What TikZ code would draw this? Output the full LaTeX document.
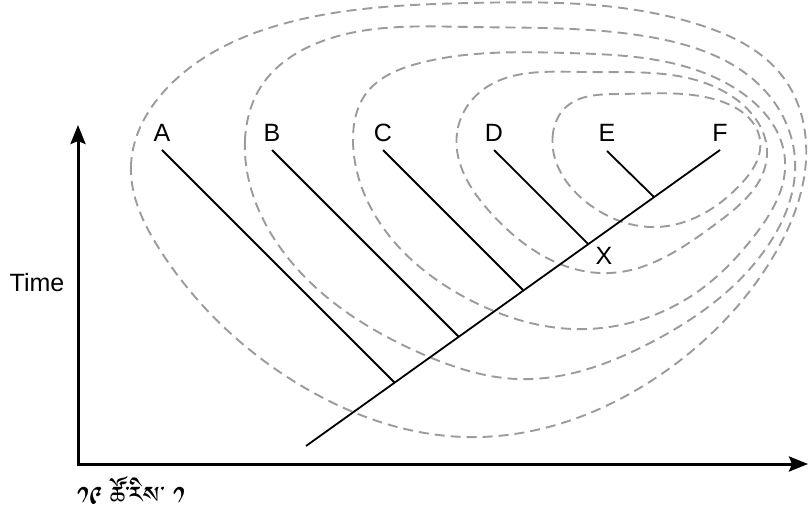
\documentclass[tikz,border=0pt]{standalone}
\usepackage{fontspec}
\setmainfont{Liberation Sans}
\newfontfamily\tibfont[Script=Tibetan]{Jomolhari}
\usetikzlibrary{arrows.meta,hobby}
\definecolor{dashgray}{RGB}{155,155,155}
\tikzset{
  loopline/.style={draw=dashgray, line width=1.9pt, dash pattern=on 10pt off 6pt, use Hobby shortcut, closed=true},
  treeline/.style={draw=black, line width=1.8pt},
  axisline/.style={draw=black, line width=3pt, -{Stealth[length=19pt,width=15pt,inset=3pt]}},
  leaf/.style={font=\fontsize{25}{28}\selectfont, inner sep=0pt}
}
\begin{document}
\begin{tikzpicture}[x=1pt,y=-1pt]
\useasboundingbox (0,0) rectangle (809,521);
% loops
\draw[loopline] (131,165) .. (160,250) .. (300,385) .. (465,437) .. (663,373) .. (773,257) .. (806,160) .. (783,77) .. (700,25) .. (470,3) .. (290,22) .. (170,85);
\draw[loopline] (245,140) .. (275,240) .. (420,353) .. (517,379) .. (650,343) .. (767,247) .. (795,160) .. (767,93) .. (650,37) .. (470,27) .. (320,42) .. (262,85);
\draw[loopline] (353,140) .. (387,233) .. (470,300) .. (573,329) .. (700,290) .. (755,235) .. (785,160) .. (733,87) .. (567,53) .. (420,63) .. (365,95);
\draw[loopline] (457,133) .. (490,212) .. (610,273) .. (717,223) .. (767,155) .. (733,97) .. (583,72) .. (480,92);
\draw[loopline] (553,133) .. (590,205) .. (657,227) .. (740,185) .. (760,140) .. (717,100) .. (620,94) .. (565,108);
% axes
\coordinate (origin) at (78,464);
\coordinate (ytip) at (78,125);
\coordinate (xtip) at (808,464);
\draw[axisline] ([yshift=1.5pt]origin) -- (ytip);
\draw[axisline] ([xshift=-1.5pt]origin) -- (xtip);
\node[leaf] (time) at (37,283) {Time};
% tree
\node[leaf] (A) at (162,133) {A};
\node[leaf] (B) at (272,133) {B};
\node[leaf] (C) at (383,133) {C};
\node[leaf] (D) at (494,133) {D};
\node[leaf] (E) at (607,133) {E};
\node[leaf] (F) at (720,133) {F};
\coordinate (tA) at (162,150);
\coordinate (tB) at (272,150);
\coordinate (tC) at (383,150);
\coordinate (tD) at (494,150);
\coordinate (tE) at (607,151);
\coordinate (tF) at (720,150);
\coordinate (root) at (306,446);
\coordinate (jA) at (394.6,382.6);
\coordinate (jB) at (458.8,336.8);
\coordinate (jC) at (523.5,290.5);
\coordinate (jD) at (588.2,244);
\coordinate (jE) at (653.9,196.9);
\draw[treeline] (root) -- (tF);
\draw[treeline] (tA) -- (jA);
\draw[treeline] (tB) -- (jB);
\draw[treeline] (tC) -- (jC);
\draw[treeline] (tD) -- (jD);
\draw[treeline] (tE) -- (jE);
\node[leaf] (X) at (604,256) {X};
\node[inner sep=0pt, anchor=base west, font=\tibfont\fontsize{30}{33}\selectfont] (tib) at (77,509) {༡༩ ཚོ་རིས་ ༡};
\end{tikzpicture}
\end{document}
